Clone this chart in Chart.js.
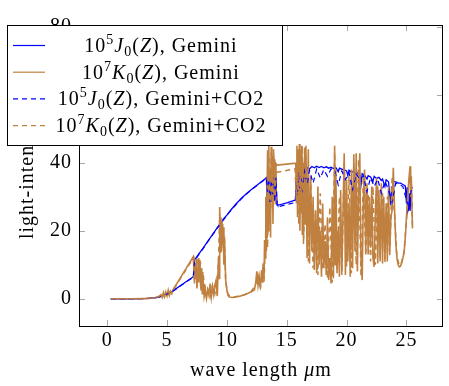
<!DOCTYPE html>
<html>
<head>
<meta charset="utf-8">
<script src="https://cdn.jsdelivr.net/npm/chart.js@4/dist/chart.umd.min.js"></script>
<style>
  html, body { margin: 0; padding: 0; background: #fff; }
  #wrap { width: 449px; height: 386px; }
</style>
</head>
<body>
<div id="wrap"><canvas id="chart"></canvas></div>
<script>
// wavelength (µm) and intensity, one pair of rows per line
const waveJ0 = [
  0.3, 1.0, 2.0, 3.0, 3.5, 4.0, 4.4, 4.7, 4.9, 5.0,
  5.2, 5.4, 7.2, 7.3, 7.6, 8.0, 8.4, 8.8, 9.2, 9.5,
  9.55, 9.6, 9.7, 10.0, 10.4, 10.8, 11.2, 11.6, 12.0, 12.4,
  12.8, 13.2, 13.3, 13.35, 13.4, 13.45, 13.5, 13.55, 13.6, 13.65,
  13.7, 13.75, 13.8, 13.85, 13.9, 13.95, 14.0, 14.05, 14.1, 14.15,
  14.2, 14.25, 15.0, 15.7, 15.75, 15.8, 15.85, 15.9, 15.95, 16.0,
  16.05, 16.1, 16.15, 16.2, 16.25, 16.3, 16.4, 16.5, 16.6, 16.7,
  16.9, 17.1, 17.3, 17.5, 17.7, 17.9, 18.1, 18.3, 18.5, 18.7,
  18.9, 19.1, 19.3, 19.4, 19.6, 19.8, 20.0, 20.1, 20.2, 20.4,
  20.6, 20.8, 20.9, 21.1, 21.2, 21.3, 21.5, 21.7, 21.8, 22.0,
  22.2, 22.3, 22.5, 22.7, 22.9, 23.0, 23.2, 23.3, 23.5, 23.6,
  23.7, 23.75, 23.8, 23.9, 24.1, 24.3, 24.5, 24.7, 24.9, 25.0,
  25.05, 25.1, 25.2, 25.25, 25.3, 25.4, 25.5
];
const j0Gemini = [
  0, 0, 0, 0.05, 0.1, 0.3, 0.6, 1.0, 1.6, 1.2,
  1.9, 2.1, 6.5, 11.4, 12.9, 14.8, 16.9, 18.9, 20.9, 22.4,
  21.6, 22.9, 23.4, 24.6, 26.4, 28.0, 29.5, 30.8, 32.0, 33.1,
  34.2, 35.3, 35.6, 30.0, 35.0, 28.0, 34.0, 29.0, 36.0, 31.0,
  35.5, 28.5, 36.2, 30.0, 35.0, 29.0, 36.5, 33.0, 36.0, 30.5,
  27.8, 27.5, 28.2, 29.0, 31.0, 35.8, 31.0, 37.2, 30.2, 38.4,
  32.0, 37.6, 29.5, 38.0, 33.0, 37.8, 31.5, 38.3, 34.5, 38.6,
  38.2, 38.9, 38.5, 39.0, 38.6, 38.9, 38.5, 38.8, 38.4, 38.7,
  38.3, 38.6, 37.4, 38.4, 38.1, 37.9, 37.6, 36.2, 37.8, 37.2,
  37.5, 36.4, 37.1, 36.6, 33.5, 36.8, 36.3, 35.2, 36.2, 35.8,
  34.5, 36.0, 35.4, 35.7, 34.8, 35.2, 33.0, 35.0, 34.4, 30.5,
  27.5, 33.0, 29.0, 34.5, 34.4, 34.0, 34.0, 33.6, 33.2, 28.0,
  32.8, 25.6, 26.5, 31.0, 25.8, 33.0, 32.5
];

const waveK0 = [
  0.3, 1.0, 2.0, 3.0, 3.5, 4.0, 4.3, 4.5, 4.6, 4.7,
  4.8, 4.9, 5.0, 5.1, 5.2, 5.3, 5.4, 5.5, 7.2, 7.25,
  7.3, 7.35, 7.4, 7.45, 7.5, 7.55, 7.6, 7.65, 7.7, 7.75,
  7.8, 7.85, 7.9, 7.95, 8.0, 8.1, 8.2, 8.3, 8.4, 8.5,
  8.6, 8.7, 8.8, 8.9, 9.0, 9.1, 9.15, 9.2, 9.3, 9.35,
  9.4, 9.45, 9.5, 9.55, 9.6, 9.65, 9.7, 9.75, 9.8, 9.9,
  10.0, 10.1, 10.2, 10.5, 11.0, 11.5, 12.0, 12.3, 12.4, 12.5,
  12.6, 12.7, 12.8, 12.9, 13.0, 13.05, 13.1, 13.15, 13.2, 13.25,
  13.3, 13.4, 13.45, 13.5, 13.55, 13.6, 13.65, 13.7, 13.75, 13.8,
  13.85, 13.9, 13.95, 14.0, 14.05, 14.1, 14.2, 15.75, 15.8, 15.85,
  15.9, 15.95, 16.0, 16.05, 16.1, 16.15, 16.2, 16.25, 16.3, 16.35,
  16.4, 16.5, 16.55, 16.6, 16.7, 16.8, 16.9, 17.0, 17.1, 17.2,
  17.3, 17.4, 17.5, 17.6, 17.7, 17.8, 17.9, 18.0, 18.1, 18.2,
  18.3, 18.4, 18.5, 18.6, 18.7, 18.8, 18.9, 19.0, 19.05, 19.1,
  19.2, 19.3, 19.4, 19.5, 19.6, 19.7, 19.8, 19.9, 20.0, 20.1,
  20.2, 20.3, 20.4, 20.5, 20.6, 20.7, 20.8, 20.9, 21.0, 21.1,
  21.2, 21.3, 21.4, 21.5, 21.6, 21.7, 21.8, 21.9, 22.0, 22.1,
  22.2, 22.3, 22.4, 22.5, 22.6, 22.7, 22.8, 22.9, 23.0, 23.1,
  23.2, 23.3, 23.4, 23.5, 23.6, 23.7, 23.8, 23.9, 24.0, 24.1,
  24.2, 24.3, 24.4, 24.5, 24.6, 24.7, 24.8, 24.9, 25.0, 25.1,
  25.2, 25.3, 25.35, 25.4, 25.5
];
const k0Gemini = [
  0, 0, 0, 0.05, 0.1, 0.3, 0.5, 1.2, 0.4, 1.8,
  0.6, 2.0, 0.8, 2.5, 1.0, 2.2, 1.5, 2.6, 12.4, 8.0,
  4.5, 10.5, 6.0, 11.8, 3.0, 9.0, 5.0, 12.0, 7.5, 11.4,
  4.0, 2.6, 9.0, 1.5, 6.5, 0.8, 3.0, 0.2, 2.5, 1.0,
  4.5, 0.5, 3.5, 1.2, 4.0, 5.5, 2.0, 0.8, 12.0, 6.0,
  27.0, 15.0, 24.0, 14.0, 22.0, 16.0, 21.0, 10.0, 18.0, 5.5,
  2.5, 1.0, 0.5, 0.4, 0.7, 1.2, 2.0, 2.6, 4.5, 8.1,
  3.9, 6.5, 3.0, 8.4, 4.7, 10.4, 6.0, 17.3, 12.0, 30.0,
  14.0, 43.7, 20.0, 45.2, 25.0, 38.0, 18.0, 44.7, 30.0, 42.0,
  22.0, 44.0, 33.0, 41.0, 28.0, 39.8, 39.3, 39.9, 30.0, 45.0,
  24.0, 44.0, 28.0, 45.5, 20.0, 43.0, 26.0, 45.0, 19.0, 40.0,
  17.8, 44.5, 22.0, 45.0, 12.0, 44.0, 10.4, 36.0, 14.0, 30.0,
  8.5, 26.0, 7.5, 33.0, 10.0, 20.0, 6.5, 28.0, 9.0, 17.0,
  7.0, 24.0, 5.5, 12.0, 4.5, 30.0, 6.0, 45.0, 10.0, 38.0,
  7.5, 20.0, 6.5, 32.0, 8.0, 25.0, 42.8, 7.0, 35.0, 11.0,
  28.0, 6.5, 38.0, 9.0, 42.5, 14.0, 42.8, 8.0, 30.0, 42.8,
  12.0, 5.5, 30.0, 38.0, 14.0, 34.0, 13.0, 30.0, 15.0, 33.0,
  12.0, 9.4, 25.0, 35.6, 10.4, 32.0, 11.0, 34.0, 10.4, 30.0,
  12.0, 28.0, 11.0, 33.0, 14.0, 24.0, 26.0, 38.5, 27.0, 17.0,
  12.0, 10.0, 9.4, 9.6, 10.5, 12.0, 13.5, 18.0, 24.0, 30.0,
  35.0, 39.0, 30.0, 36.0, 20.7
];

const waveJ0CO2 = [
  0.3, 2.0, 3.0, 4.0, 4.4, 4.7, 5.0, 5.4, 7.2, 7.3,
  8.0, 8.8, 9.6, 10.4, 11.2, 12.0, 12.8, 13.3, 13.4, 13.5,
  13.6, 13.7, 13.8, 13.9, 14.0, 14.1, 14.2, 15.7, 15.8, 15.9,
  16.0, 16.1, 16.2, 16.3, 16.5, 16.7, 16.9, 17.2, 17.5, 17.8,
  18.1, 18.4, 18.7, 19.0, 19.3, 19.6, 19.9, 20.2, 20.5, 20.8,
  21.1, 21.4, 21.7, 22.0, 22.3, 22.6, 22.9, 23.2, 23.5, 23.8,
  24.1, 24.4, 24.7, 25.0, 25.2, 25.4, 25.5
];
const j0CO2 = [
  0, 0, 0.05, 0.3, 0.6, 1.1, 1.4, 2.0, 6.4, 11.2,
  14.7, 18.8, 22.7, 26.3, 29.4, 31.9, 34.1, 35.4, 31.5, 35.2,
  28.5, 34.8, 30.5, 35.8, 28.8, 35.5, 27.0, 28.3, 34.5, 30.0,
  37.0, 31.0, 36.5, 32.5, 37.5, 33.5, 37.8, 34.0, 38.2, 35.5,
  38.0, 36.0, 38.2, 37.8, 33.5, 37.6, 35.0, 37.2, 32.0, 36.8,
  35.0, 36.2, 31.5, 35.6, 33.0, 35.2, 31.0, 34.6, 32.0, 28.5,
  34.0, 33.6, 33.0, 29.0, 27.0, 32.0, 31.5
];

const waveK0CO2 = [
  0.3, 2.0, 3.0, 4.0, 4.5, 4.7, 4.9, 5.1, 5.3, 5.5,
  7.2, 7.3, 7.4, 7.5, 7.6, 7.7, 7.8, 7.9, 8.0, 8.2,
  8.4, 8.6, 8.8, 9.0, 9.2, 9.3, 9.4, 9.5, 9.6, 9.7,
  9.8, 9.9, 10.1, 10.5, 11.0, 11.5, 12.0, 12.4, 12.6, 12.8,
  13.0, 13.1, 13.2, 13.3, 13.4, 13.5, 13.6, 13.7, 13.8, 13.9,
  14.0, 14.1, 14.2, 15.7, 15.8, 15.9, 16.0, 16.1, 16.2, 16.3,
  16.4, 16.6, 16.8, 17.0, 17.2, 17.4, 17.6, 17.8, 18.0, 18.2,
  18.4, 18.6, 18.8, 19.0, 19.2, 19.4, 19.6, 19.8, 20.0, 20.2,
  20.4, 20.6, 20.8, 21.0, 21.2, 21.4, 21.6, 21.8, 22.0, 22.2,
  22.4, 22.6, 22.8, 23.0, 23.2, 23.4, 23.6, 23.8, 24.0, 24.2,
  24.4, 24.6, 24.8, 25.0, 25.2, 25.4, 25.5
];
const k0CO2 = [
  0, 0, 0.05, 0.3, 1.0, 0.5, 1.8, 0.9, 2.3, 2.5,
  12.0, 5.0, 10.5, 3.5, 11.5, 6.0, 10.8, 2.5, 8.0, 1.0,
  3.0, 0.6, 4.0, 1.5, 5.0, 11.0, 25.0, 13.0, 23.0, 15.0,
  17.0, 5.0, 1.2, 0.5, 0.8, 1.3, 2.1, 4.0, 7.0, 3.5,
  9.0, 5.0, 14.0, 28.0, 15.0, 42.0, 22.0, 43.0, 26.0, 42.5,
  30.0, 38.0, 37.2, 38.2, 28.0, 43.0, 22.0, 44.0, 25.0, 45.0,
  16.0, 42.0, 11.0, 34.0, 9.0, 25.0, 7.0, 31.0, 8.5, 22.0,
  6.0, 27.0, 4.8, 43.0, 8.5, 30.0, 7.0, 40.0, 9.5, 36.0,
  7.5, 40.0, 10.0, 41.0, 6.5, 36.0, 12.5, 31.0, 11.0, 33.0,
  10.0, 33.0, 12.0, 31.0, 10.5, 30.0, 12.5, 36.0, 25.0, 12.5,
  9.8, 10.8, 14.0, 23.0, 34.0, 35.0, 21.0
];

const xTicks = [0, 5, 10, 15, 20, 25];
const yTicks = [0, 20, 40, 60, 80];

// legend text pieces: 10^exp F_0(Z), run
const legendExp = ['5', '7', '5', '7'];
const legendFn = ['J', 'K', 'J', 'K'];
const legendRun = ['Gemini', 'Gemini', 'Gemini+CO2', 'Gemini+CO2'];

const BLUE = '#0000ff';
const ORANGE = '#bf8040';
const SERIF = '"Liberation Serif", "Times New Roman", serif';
const SPACING = '1px';

function pairs(xs, ys) {
  return xs.map((x, i) => ({ x: x, y: ys[i] }));
}

// the computer-modern text of the original runs wider than Times
const spacing = {
  id: 'spacing',
  beforeLayout(chart) { chart.ctx.letterSpacing = SPACING; },
  beforeDraw(chart) { chart.ctx.letterSpacing = SPACING; }
};

const frameTicks = {
  id: 'frameTicks',
  afterDatasetsDraw(chart) {
    const { ctx, chartArea: a } = chart;
    const sx = chart.scales.x, sy = chart.scales.y;
    ctx.save();
    ctx.strokeStyle = '#a8a8a8';
    ctx.lineWidth = 1;
    ctx.beginPath();
    xTicks.forEach(v => {
      const px = Math.round(sx.getPixelForValue(v)) + 0.5;
      ctx.moveTo(px, a.bottom); ctx.lineTo(px, a.bottom - 6);
      ctx.moveTo(px, a.top); ctx.lineTo(px, a.top + 6);
    });
    yTicks.forEach(v => {
      const py = Math.round(sy.getPixelForValue(v)) + 0.5;
      ctx.moveTo(a.left, py); ctx.lineTo(a.left + 6, py);
      ctx.moveTo(a.right, py); ctx.lineTo(a.right - 6, py);
    });
    ctx.stroke();
    ctx.strokeStyle = '#000';
    ctx.strokeRect(a.left + 0.5, a.top + 0.5, a.right - a.left - 1, a.bottom - a.top);
    ctx.restore();
  }
};

function drawPieces(ctx, parts, cx, base) {
  let total = 0;
  parts.forEach(p => { ctx.font = p[1]; p[3] = ctx.measureText(p[0]).width; total += p[3]; });
  let x = cx - total / 2;
  ctx.fillStyle = '#000';
  ctx.textBaseline = 'alphabetic';
  ctx.textAlign = 'left';
  parts.forEach(p => {
    ctx.font = p[1];
    ctx.fillText(p[0], x, base + p[2]);
    x += p[3];
  });
}

const texText = {
  id: 'texText',
  afterDraw(chart) {
    const ctx = chart.ctx;
    const big = '20px ' + SERIF, it = 'italic 20px ' + SERIF, small = '14px ' + SERIF;
    ctx.save();
    ctx.letterSpacing = SPACING;

    // x axis title with an italic mu
    drawPieces(ctx, [['wave length ', big, 0], ['μ', it, 0], ['m', big, 0]], 261, 376);

    ctx.fillStyle = '#fff';
    ctx.fillRect(7.5, 25.5, 275, 120);
    ctx.strokeStyle = '#000';
    ctx.lineWidth = 1;
    ctx.strokeRect(7.5, 25.5, 275, 120);

    chart.data.datasets.forEach((ds, i) => {
      const cy = 45.5 + i * 26.7;
      ctx.strokeStyle = ds.borderColor;
      ctx.lineWidth = 1.2;
      ctx.setLineDash(ds.borderDash || []);
      ctx.beginPath();
      ctx.moveTo(13, cy); ctx.lineTo(45, cy);
      ctx.stroke();
      ctx.setLineDash([]);

      drawPieces(ctx, [
        ['10', big, 0], [legendExp[i], small, -8], [legendFn[i], it, 0], ['0', small, 4],
        ['(', big, 0], ['Z', it, 0], [')', big, 0], [', ' + legendRun[i], big, 0]
      ], 161, cy + 6.5);
    });
    ctx.restore();
  }
};

Chart.defaults.font.family = SERIF;
Chart.defaults.font.size = 20;
Chart.defaults.color = '#000';

new Chart(document.getElementById('chart'), {
  type: 'scatter',
  data: {
    datasets: [
      { label: '10^5 J0(Z), Gemini', data: pairs(waveJ0, j0Gemini), borderColor: BLUE, borderWidth: 1.3, order: 4 },
      { label: '10^7 K0(Z), Gemini', data: pairs(waveK0, k0Gemini), borderColor: ORANGE, borderWidth: 1.6, order: 3 },
      { label: '10^5 J0(Z), Gemini+CO2', data: pairs(waveJ0CO2, j0CO2), borderColor: BLUE, borderDash: [5, 4], order: 2 },
      { label: '10^7 K0(Z), Gemini+CO2', data: pairs(waveK0CO2, k0CO2), borderColor: ORANGE, borderDash: [5, 4], borderWidth: 1.5, order: 1 }
    ]
  },
  options: {
    responsive: true,
    maintainAspectRatio: false,
    devicePixelRatio: 1,
    animation: false,
    showLine: true,
    elements: {
      point: { radius: 0, hoverRadius: 0 },
      line: { borderWidth: 1.2, tension: 0, fill: false }
    },
    layout: { padding: { top: 25, right: 6, left: 0, bottom: 0 } },
    plugins: {
      legend: { display: false },
      tooltip: { enabled: false }
    },
    scales: {
      x: {
        type: 'linear',
        min: -2.35,
        max: 28.05,
        afterBuildTicks: s => { s.ticks = xTicks.map(v => ({ value: v })); },
        afterFit: s => { s.height = 60; },
        grid: { display: false, drawTicks: false },
        border: { display: false },
        ticks: { padding: 3 }
      },
      y: {
        type: 'linear',
        min: -8,
        max: 80.5,
        afterBuildTicks: s => { s.ticks = yTicks.map(v => ({ value: v })); },
        afterFit: s => { s.width = 79; },
        grid: { display: false, drawTicks: false },
        border: { display: false },
        ticks: { padding: 7 },
        title: { display: true, text: 'light-intensity', padding: { top: 16, bottom: 0 } }
      }
    }
  },
  plugins: [spacing, frameTicks, texText]
});
</script>
</body>
</html>
